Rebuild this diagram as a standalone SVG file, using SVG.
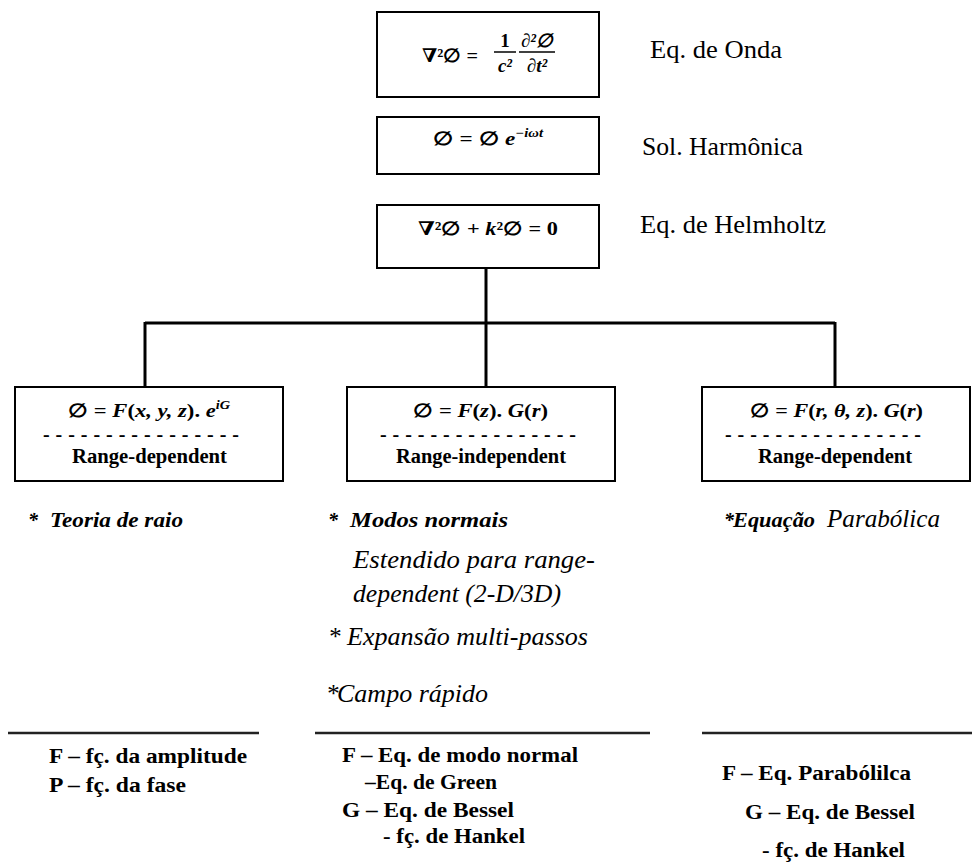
<svg xmlns="http://www.w3.org/2000/svg" width="972" height="865" viewBox="0 0 972 865">
<style>
.box{fill:#fff;stroke:#000;stroke-width:2}
.conn{stroke:#000;stroke-width:3;fill:none}
.rule{stroke:#222;stroke-width:2.5}
.lbl{font-family:"Liberation Serif","Times New Roman","DejaVu Serif",serif;font-size:25px;fill:#000}
.eq{font-family:"Liberation Serif","Times New Roman","DejaVu Serif",serif;font-size:19px;font-weight:bold;fill:#000}
.it{font-style:italic}
.sup{font-size:12px}
.bd{font-family:"Liberation Serif","Times New Roman","DejaVu Serif",serif;font-size:20px;font-weight:bold;fill:#000}
.bi{font-family:"Liberation Serif","Times New Roman","DejaVu Serif",serif;font-size:20px;font-weight:bold;font-style:italic;fill:#000}
.ti{font-family:"Liberation Serif","Times New Roman","DejaVu Serif",serif;font-size:25px;font-style:italic;fill:#000}
.dash{font-family:"Liberation Serif","Times New Roman","DejaVu Serif",serif;font-size:20px;font-weight:bold;fill:#000}
</style>

<g id="connectors">
  <line class="conn" x1="486" y1="268" x2="486" y2="387"/>
  <line class="conn" x1="145" y1="323" x2="835" y2="323"/>
  <line class="conn" x1="145" y1="322" x2="145" y2="387"/>
  <line class="conn" x1="835" y1="322" x2="835" y2="387"/>
</g>

<g id="onda">
  <rect class="box" x="377" y="12" width="222" height="85"/>
  <text class="eq" x="422" y="62" textLength="56" lengthAdjust="spacingAndGlyphs">∇²∅ =</text>
  <text class="eq" x="505" y="47" text-anchor="middle">1</text>
  <line x1="494" y1="52" x2="516" y2="52" stroke="#000" stroke-width="1.5"/>
  <text class="eq it" x="505" y="72" text-anchor="middle">c²</text>
  <text class="eq it" x="537" y="47" text-anchor="middle">∂²∅</text>
  <line x1="519" y1="52" x2="555" y2="52" stroke="#000" stroke-width="1.5"/>
  <text class="eq it" x="537" y="72" text-anchor="middle">∂t²</text>
  <text class="lbl" x="650" y="58" textLength="132" lengthAdjust="spacingAndGlyphs">Eq. de Onda</text>
</g>

<g id="harmonica">
  <rect class="box" x="377" y="117" width="222" height="57"/>
  <text class="eq" x="433" y="145" textLength="110" lengthAdjust="spacingAndGlyphs">∅ =  ∅  <tspan class="it">e</tspan><tspan class="it sup" dy="-8">−iωt</tspan></text>
  <text class="lbl" x="642" y="155" textLength="161" lengthAdjust="spacingAndGlyphs">Sol. Harmônica</text>
</g>

<g id="helmholtz">
  <rect class="box" x="377" y="205" width="222" height="63"/>
  <text class="eq" x="418" y="235" textLength="140" lengthAdjust="spacingAndGlyphs">∇²∅ + <tspan class="it">k</tspan>²∅ = 0</text>
  <text class="lbl" x="640" y="233" textLength="186" lengthAdjust="spacingAndGlyphs">Eq. de Helmholtz</text>
</g>

<g id="box-left">
  <rect class="box" x="15" y="387" width="268" height="94"/>
  <text class="eq" x="68" y="417" textLength="162" lengthAdjust="spacingAndGlyphs">∅ =  <tspan class="it">F</tspan>(<tspan class="it">x, y, z</tspan>). <tspan class="it">e</tspan><tspan class="it sup" dy="-8">iG</tspan></text>
  <text class="dash" x="43" y="441" textLength="196" lengthAdjust="spacing">----------------</text>
  <text class="bd" x="72" y="463" textLength="155" lengthAdjust="spacingAndGlyphs">Range-dependent</text>
</g>

<g id="box-middle">
  <rect class="box" x="347" y="387" width="268" height="94"/>
  <text class="eq" x="413" y="417" textLength="135" lengthAdjust="spacingAndGlyphs">∅ =  <tspan class="it">F</tspan>(<tspan class="it">z</tspan>). <tspan class="it">G</tspan>(<tspan class="it">r</tspan>)</text>
  <text class="dash" x="380" y="441" textLength="196" lengthAdjust="spacing">----------------</text>
  <text class="bd" x="396" y="463" textLength="170" lengthAdjust="spacingAndGlyphs">Range-independent</text>
</g>

<g id="box-right">
  <rect class="box" x="702" y="387" width="268" height="94"/>
  <text class="eq" x="750" y="417" textLength="173" lengthAdjust="spacingAndGlyphs">∅ =  <tspan class="it">F</tspan>(<tspan class="it">r, θ, z</tspan>). <tspan class="it">G</tspan>(<tspan class="it">r</tspan>)</text>
  <text class="dash" x="725" y="441" textLength="196" lengthAdjust="spacing">----------------</text>
  <text class="bd" x="758" y="463" textLength="154" lengthAdjust="spacingAndGlyphs">Range-dependent</text>
</g>

<g id="methods-left">
  <text class="bi" x="28" y="527">*</text>
  <text class="bi" x="50" y="527" textLength="133" lengthAdjust="spacingAndGlyphs">Teoria de raio</text>
</g>

<g id="methods-middle">
  <text class="bi" x="328" y="527">*</text>
  <text class="bi" x="350" y="527" textLength="158" lengthAdjust="spacingAndGlyphs">Modos normais</text>
  <text class="ti" x="353" y="568" textLength="242" lengthAdjust="spacingAndGlyphs">Estendido para range-</text>
  <text class="ti" x="353" y="602" textLength="208" lengthAdjust="spacingAndGlyphs">dependent (2-D/3D)</text>
  <text class="ti" x="328" y="645">*</text>
  <text class="ti" x="347" y="645" textLength="241" lengthAdjust="spacingAndGlyphs">Expansão multi-passos</text>
  <text class="ti" x="326" y="702">*</text>
  <text class="ti" x="337" y="702" textLength="151" lengthAdjust="spacingAndGlyphs">Campo rápido</text>
</g>

<g id="methods-right">
  <text class="bi" x="724" y="527">*</text>
  <text class="bi" x="733" y="527" textLength="82" lengthAdjust="spacingAndGlyphs">Equação</text>
  <text class="ti" x="827" y="527" textLength="113" lengthAdjust="spacingAndGlyphs">Parabólica</text>
</g>

<g id="notes-left">
  <line class="rule" x1="8" y1="733" x2="259" y2="733"/>
  <text class="bd" x="49" y="763" textLength="198" lengthAdjust="spacingAndGlyphs">F – fç. da amplitude</text>
  <text class="bd" x="49" y="792" textLength="137" lengthAdjust="spacingAndGlyphs">P – fç. da fase</text>
</g>

<g id="notes-middle">
  <line class="rule" x1="315" y1="733" x2="650" y2="733"/>
  <text class="bd" x="342" y="762" textLength="236" lengthAdjust="spacingAndGlyphs">F – Eq. de modo normal</text>
  <text class="bd" x="365" y="789" textLength="132" lengthAdjust="spacingAndGlyphs">–Eq. de Green</text>
  <text class="bd" x="342" y="817" textLength="172" lengthAdjust="spacingAndGlyphs">G – Eq. de Bessel</text>
  <text class="bd" x="383" y="843" textLength="142" lengthAdjust="spacingAndGlyphs">- fç. de Hankel</text>
</g>

<g id="notes-right">
  <line class="rule" x1="702" y1="733" x2="972" y2="733"/>
  <text class="bd" x="722" y="780" textLength="189" lengthAdjust="spacingAndGlyphs">F – Eq. Parabólilca</text>
  <text class="bd" x="745" y="819" textLength="170" lengthAdjust="spacingAndGlyphs">G – Eq. de Bessel</text>
  <text class="bd" x="762" y="857" textLength="143" lengthAdjust="spacingAndGlyphs">- fç. de Hankel</text>
</g>
</svg>
